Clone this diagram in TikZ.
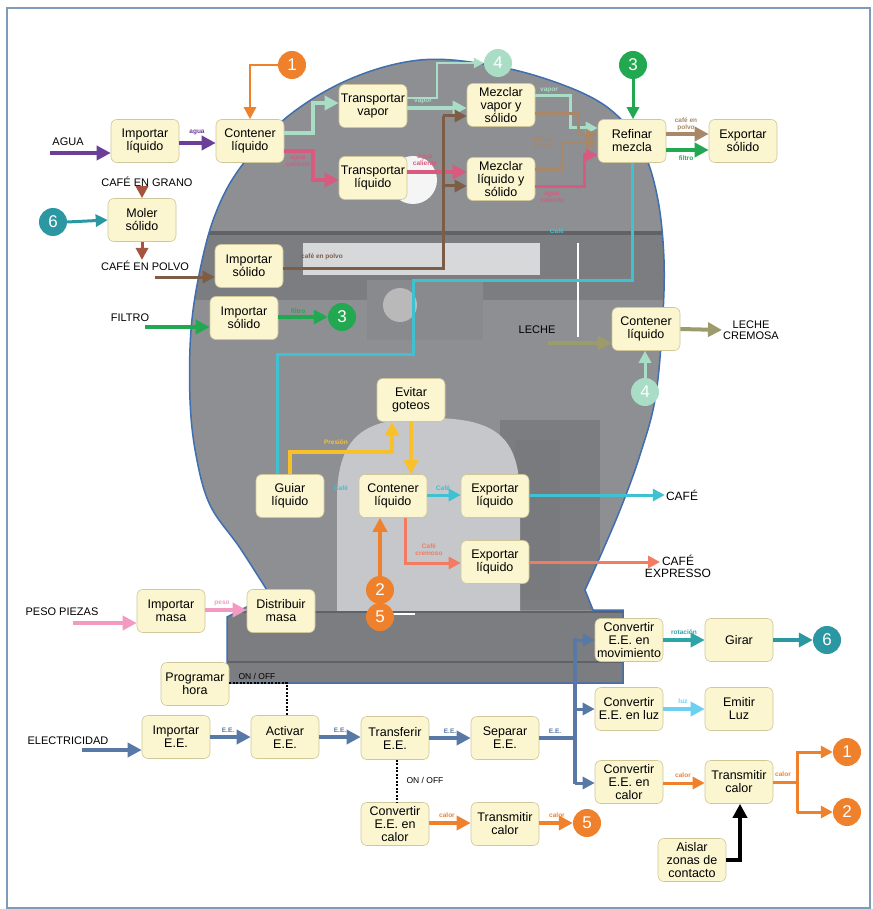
\documentclass[tikz,border=0pt]{standalone}
\usepackage{fontspec}
\setmainfont{Liberation Sans}
\usetikzlibrary{arrows.meta,calc}
\definecolor{boxfill}{HTML}{FBF6D0}
\definecolor{boxline}{HTML}{CFC79A}
\definecolor{cPurple}{HTML}{6B3E98}
\definecolor{cMint}{HTML}{A9DDC6}
\definecolor{cPink}{HTML}{D95A7E}
\definecolor{cBrown}{HTML}{7D5D46}
\definecolor{cTan}{HTML}{A88868}
\definecolor{cGreen}{HTML}{22A851}
\definecolor{cCyan}{HTML}{3EC1D1}
\definecolor{cYellow}{HTML}{F8C12C}
\definecolor{cSalmon}{HTML}{F27B62}
\definecolor{cOrange}{HTML}{F0812C}
\definecolor{cPeso}{HTML}{F39AC3}
\definecolor{cEE}{HTML}{5878A6}
\definecolor{cLuz}{HTML}{6DCFF2}
\definecolor{cTeal}{HTML}{2DA5A8}
\definecolor{cOlive}{HTML}{9C9B6C}
\definecolor{cNumTeal}{HTML}{2A97A3}
\definecolor{cRedBrown}{HTML}{A65440}
\definecolor{cFrame}{HTML}{7E9BB8}
\definecolor{mGrey}{HTML}{8D8F93}
\definecolor{mDark}{HTML}{7B7D81}
\definecolor{mDarker}{HTML}{606266}
\definecolor{mLight}{HTML}{C6C7CA}
\definecolor{mSlot}{HTML}{D7D8DA}
\definecolor{mOutline}{HTML}{3F6FAE}
\def\machpath{(227,617) -- (270,595) -- plot[smooth, tension=0.6] coordinates {(270,595) (240,548) (210,505) (196,455) (190,400) (191,330) (200,270) (215,215) (240,168) (287,117) (350,79) (420,60) (490,65) (555,82) (607,107) (640,145) (657,195) (664,260) (662,330) (655,400) (640,455) (622,505) (603,550) (585,590)} -- (593,610) -- (623,610) -- (623,683) -- (227,683) -- cycle}
\begin{document}
\begin{tikzpicture}[x=1pt,y=-1pt,
  box/.style={draw=boxline, line width=0.6pt, fill=boxfill, rounded corners=6pt, minimum width=68pt, minimum height=43pt, inner sep=1pt, align=center, font=\fontsize{12.5}{13}\selectfont},
  num/.style={circle, minimum size=28pt, inner sep=0pt, text=white, font=\fontsize{17}{17}\selectfont},
  lbl/.style={font=\fontsize{11}{12}\selectfont, align=center, inner sep=1pt},
  tiny/.style={font=\bfseries\fontsize{6.5}{7}\selectfont, align=center, inner sep=0.5pt},
  fl/.style={line width=4pt, -{Triangle[length=14pt,width=14pt]}},
  fm/.style={line width=3pt, -{Triangle[length=12pt,width=12pt]}},
  ln/.style={line width=3pt},
  dots/.style={line width=2.5pt, dash pattern=on 2pt off 1.5pt, black}]
\useasboundingbox (0,0) rectangle (872,909);
\fill[white] (0,0) rectangle (872,909);
\draw[cFrame, line width=1.5pt] (7,8) rectangle (870,908);
% machine silhouette
\fill[mGrey] \machpath;
\begin{scope}
\clip \machpath;
\fill[mDark] (180,233) rectangle (680,300);
\draw[mDarker, line width=3pt] (180,233) -- (680,233);
\fill[mSlot] (303,243) rectangle (540,275);
\fill[mDark!90!white] (367,280) rectangle (483,340);
\fill[gray!55] (400,305) circle (17);
\fill[mDark] (500,420) rectangle (600,610);
\fill[mGrey!85!black] (515,440) rectangle (560,600);
\fill[mLight] (337,620) -- (337,500) .. controls (337,430) and (370,418) .. (430,418) .. controls (500,418) and (520,440) .. (520,500) -- (520,620) -- cycle;
\fill[mDark] (180,612) rectangle (680,690);
\draw[mDarker, line width=2pt] (180,612) -- (680,612);
\draw[mDarker, line width=2pt] (180,662) -- (680,662);
\fill[white!92!gray] (413,180) circle (24);
\draw[white, line width=2pt] (578,243) -- (578,337);
\draw[white, line width=1.5pt] (392,614) -- (415,614);
\end{scope}
\draw[mOutline, line width=1.5pt] \machpath;

% ---------- nodes ----------
\node[box] (impliq) at (145,141) {Importar\\líquido};
\node[box] (cont1) at (250,141) {Contener\\líquido};
\node[box] (moler) at (142,220) {Moler\\sólido};
\node[box] (impsol1) at (249,266) {Importar\\sólido};
\node[box] (impsol2) at (244,318) {Importar\\sólido};
\node[box] (tvap) at (373,106) {Transportar\\vapor};
\node[box] (tliq) at (373,178) {Transportar\\líquido};
\node[box] (mvap) at (501,105) {Mezclar\\vapor y\\sólido};
\node[box] (mliq) at (501,179) {Mezclar\\líquido y\\sólido};
\node[box] (ref) at (632,141) {Refinar\\mezcla};
\node[box] (expsol) at (743,141) {Exportar\\sólido};
\node[box] (evit) at (411,400) {Evitar\\goteos};
\node[box] (guiar) at (290,496) {Guiar\\líquido};
\node[box] (cont2) at (393,496) {Contener\\líquido};
\node[box] (exp1) at (495,496) {Exportar\\líquido};
\node[box] (exp2) at (495,562) {Exportar\\líquido};
\node[box] (contL) at (646,329) {Contener\\líquido};
\node[box] (impmasa) at (171,611) {Importar\\masa};
\node[box] (dist) at (281,611) {Distribuir\\masa};
\node[box] (prog) at (195,684) {Programar\\hora};
\node[box] (impee) at (176,737) {Importar\\E.E.};
\node[box] (act) at (285,737) {Activar\\E.E.};
\node[box] (transf) at (395,738) {Transferir\\E.E.};
\node[box] (sep) at (505,738) {Separar\\E.E.};
\node[box] (conv5) at (395,824) {Convertir\\E.E. en\\calor};
\node[box] (trans5) at (505,824) {Transmitir\\calor};
\node[box] (convmov) at (629,640) {Convertir\\E.E. en\\movimiento};
\node[box] (girar) at (739,640) {Girar};
\node[box] (convluz) at (629,709) {Convertir\\E.E. en luz};
\node[box] (emitir) at (739,709) {Emitir\\Luz};
\node[box] (convcal) at (629,782) {Convertir\\E.E. en\\calor};
\node[box] (transcal) at (739,782) {Transmitir\\calor};
\node[box] (aislar) at (692,860) {Aislar\\zonas de\\contacto};

% numbered circles
\node[num, fill=cOrange] (c1top) at (292,65) {1};
\node[num, fill=cMint] (c4top) at (498,63) {4};
\node[num, fill=cGreen] (c3top) at (633,65) {3};
\node[num, fill=cNumTeal] (c6left) at (53,222) {6};
\node[num, fill=cGreen] (c3mid) at (342,317) {3};
\node[num, fill=cMint] (c4bot) at (645,392) {4};
\node[num, fill=cOrange] (c2) at (380,590) {2};
\node[num, fill=cOrange] (c5) at (380,617) {5};
\node[num, fill=cOrange] (c5b) at (587,823) {5};
\node[num, fill=cNumTeal] (c6r) at (827,640) {6};
\node[num, fill=cOrange] (c1r) at (847,752) {1};
\node[num, fill=cOrange] (c2r) at (847,812) {2};

% text labels
\node[lbl] (tagua) at (68,142) {AGUA};
\node[lbl] (tgrano) at (147,182) {CAFÉ EN GRANO};
\node[lbl] (tpolvo) at (145,266) {CAFÉ EN POLVO};
\node[lbl] (tfiltro) at (130,318) {FILTRO};
\node[lbl] (tleche) at (537,330) {LECHE};
\node[lbl, font=\fontsize{11}{11}\selectfont] (tcremosa) at (751,330) {LECHE\\CREMOSA};
\node[lbl, font=\fontsize{12}{12}\selectfont] (tcafe) at (682,495) {CAFÉ};
\node[lbl, font=\fontsize{12}{12}\selectfont] (texpr) at (678,566) {CAFÉ\\EXPRESSO};
\node[lbl] (tpeso) at (62,612) {PESO PIEZAS};
\node[lbl] (telec) at (68,741) {ELECTRICIDAD};

% free ends
\coordinate (aguaS) at (50,153);
\coordinate (polvoS) at (155,277);
\coordinate (filtroS) at (145,327);
\coordinate (lecheS) at (548,343);
\coordinate (pesoS) at (73,623);
\coordinate (elecS) at (82,750);
\coordinate (expE) at (660,562);
\coordinate (split) at (575,738);
\coordinate (hsplit) at (797,782);

% ---------- connectors ----------
\draw[fl, cPurple] (aguaS) -- (impliq.west |- aguaS);
\draw[fl, cPurple] (impliq.east |- 0,143) -- (cont1.west |- 0,143);
\node[tiny, text=cPurple] (lagua) at (197,132) {agua};
\draw[fm, cOrange, line width=2.5pt] (c1top.west) -| (cont1.north);
\draw[fl, cMint] (cont1.east |- 0,133) -- (313,133) -- (313,103) -- (tvap.west |- 0,103);
\draw[fl, cMint] (tvap.east |- 0,108) -- (mvap.west |- 0,108);
\node[tiny, text=cMint] (lvap1) at (423,101) {vapor};
\draw[cMint, line width=2pt, -{Triangle[length=10pt,width=10pt]}] (tvap.east |- 0,98) -- (437,98) -- (437,63) -- (c4top.west);
\draw[fm, cMint] (mvap.east |- 0,96) -- (570,96) -- (570,128) -- (ref.west |- 0,128);
\node[tiny, text=cMint] (lvap2) at (549,90) {vapor};
\draw[fl, cPink] (cont1.east |- 0,151) -- (313,151) -- (313,180) -- (tliq.west |- 0,180);
\node[tiny, text=cPink] (lac1) at (298,161) {agua\\caliente};
\draw[fl, cPink] (tliq.east |- 0,172) -- (mliq.west |- 0,172);
\node[tiny, text=cPink] (lac2) at (425,160) {agua\\caliente};
\draw[fm, cPink] (mliq.east |- 0,187) -- (584,187) -- (584,155) -- (ref.west |- 0,155);
\node[tiny, text=cPink] (lac3) at (552,197) {agua\\caliente};
\draw[fm, cBrown] (polvoS) -- (impsol1.west |- polvoS);
\draw[ln, cBrown] (impsol1.east |- 0,268) -- (443,268) -- (443,116);
\draw[fm, cBrown] (443,116) -- (mvap.west |- 0,116);
\draw[fm, cBrown] (443,186) -- (mliq.west |- 0,186);
\node[tiny, text=cBrown] (lcp1) at (322,257) {café en polvo};
\draw[fm, cTan] (mvap.east |- 0,114) -- (578,114) -- (578,135) -- (ref.west |- 0,135);
\draw[fm, cTan] (mliq.east |- 0,170) -- (562,170) -- (562,143) -- (ref.west |- 0,143);
\node[tiny, text=cTan] (lcp2) at (543,143) {café en\\polvo};
\draw[fl, cTan] (ref.east |- 0,134) -- (expsol.west |- 0,134);
\node[tiny, text=cTan] (lcp3) at (686,124) {café en\\polvo};
\draw[fl, cGreen] (filtroS) -- (impsol2.west |- filtroS);
\draw[fl, cGreen] (impsol2.east |- c3mid.west) -- (c3mid.west);
\node[tiny, text=cGreen] (lfil1) at (298,311) {filtro};
\draw[fm, cGreen] (c3top.south) -- (c3top.south |- ref.north);
\draw[fl, cGreen] (ref.east |- 0,150) -- (expsol.west |- 0,150);
\node[tiny, text=cGreen] (lfil2) at (686,158) {filtro};
\draw[ln, cCyan] (ref.south) -- (632,280) -- (413,280) -- (413,354) -- (277,354) -- (guiar.north -| 277,0);
\node[tiny, text=cCyan] (lcaf1) at (557,231) {Café};
\node[tiny, text=cCyan] (lcaf2) at (341,488) {Café};
\draw[fm, cCyan] (cont2.east |- 0,495) -- (exp1.west |- 0,495);
\node[tiny, text=cCyan] (lcaf3) at (443,488) {Café};
\draw[fm, cCyan] (exp1.east |- 0,495) -- (tcafe.west |- 0,495);
\draw[fl, cYellow] (guiar.north -| 290,0) -- (290,452) -- (392,452) -- (evit.south -| 392,0);
\node[tiny, text=cYellow] (lpres) at (336,442) {Presión};
\draw[fl, cYellow] (evit.south -| 411,0) -- (cont2.north -| 411,0);
\draw[fm, cSalmon] (cont2.south -| 405,0) -- (405,563) -- (exp2.west |- 0,563);
\node[tiny, text=cSalmon] (lcrem) at (429,550) {Café\\cremoso};
\draw[fm, cSalmon] (exp2.east |- 0,562) -- (expE);
\draw[fl, cOrange] (c2.north) -- (cont2.south -| c2.north);
\draw[fl, cOlive] (lecheS) -- (contL.west |- lecheS);
\draw[fl, cOlive] (contL.east) -- (tcremosa.west);
\draw[fm, cMint] (c4bot.north) -- (contL.south -| c4bot.north);
\draw[fm, cNumTeal] (c6left.east) -- (moler.west);
\draw[fm, cRedBrown] (tgrano.south -| moler.north) -- (moler.north);
\draw[fm, cRedBrown] (moler.south) -- (tpolvo.north -| moler.south);
\draw[fl, cPeso] (pesoS) -- (impmasa.west |- pesoS);
\draw[fl, cPeso] (impmasa.east |- 0,610) -- (dist.west |- 0,610);
\node[tiny, text=cPeso] (lpeso) at (222,603) {peso};
\draw[dots] (prog.east |- 0,683) -- (287,683) -- (act.north -| 287,0);
\node[font=\fontsize{8.5}{8.5}\selectfont] (lon1) at (257,676) {ON / OFF};
\draw[dots] (transf.south -| 397,0) -- (conv5.north -| 397,0);
\node[font=\fontsize{8.5}{8.5}\selectfont] (lon2) at (425,780) {ON / OFF};
\draw[fl, cEE] (elecS) -- (impee.west |- elecS);
\draw[fl, cEE] (impee.east |- 0,737) -- (act.west |- 0,737);
\node[tiny, text=cEE] (lee1) at (228,730) {E.E.};
\draw[fl, cEE] (act.east |- 0,737) -- (transf.west |- 0,737);
\node[tiny, text=cEE] (lee2) at (340,730) {E.E.};
\draw[fl, cEE] (transf.east |- 0,738) -- (sep.west |- 0,738);
\node[tiny, text=cEE] (lee3) at (450,731) {E.E.};
\draw[ln, cEE, line width=4pt] (sep.east |- split) -- (split);
\node[tiny, text=cEE] (lee4) at (555,731) {E.E.};
\draw[ln, cEE, line width=4pt] (575,638) -- (575,784);
\draw[fm, cEE] (575,640) -- (convmov.west |- 0,640);
\draw[fm, cEE] (575,709) -- (convluz.west |- 0,709);
\draw[fm, cEE] (575,783) -- (convcal.west |- 0,783);
\draw[fl, cOrange] (conv5.east |- 0,823) -- (trans5.west |- 0,823);
\node[tiny, text=cOrange] (lcal1) at (447,815) {calor};
\draw[fl, cOrange] (trans5.east |- c5b.west) -- (c5b.west);
\node[tiny, text=cOrange] (lcal2) at (557,815) {calor};
\draw[fl, cTeal] (convmov.east) -- (girar.west);
\node[tiny, text=cTeal] (lrot) at (684,632) {rotación};
\draw[fl, cNumTeal] (girar.east) -- (c6r.west);
\draw[fl, cLuz] (convluz.east) -- (emitir.west);
\node[tiny, text=cLuz] (lluz) at (683,701) {luz};
\draw[fm, cOrange] (convcal.east |- 0,783) -- (transcal.west |- 0,783);
\node[tiny, text=cOrange] (lcal3) at (683,775) {calor};
\draw[ln, cOrange] (transcal.east |- hsplit) -- (hsplit);
\draw[ln, cOrange] (797,751) -- (797,813);
\draw[fm, cOrange] (797,752) -- (c1r.west);
\draw[fm, cOrange] (797,812) -- (c2r.west);
\node[tiny, text=cOrange] (lcal4) at (783,774) {calor};
\draw[fl, black] (aislar.east |- 0,860) -- (740,860) -- (transcal.south -| 740,0);
\end{tikzpicture}
\end{document}
